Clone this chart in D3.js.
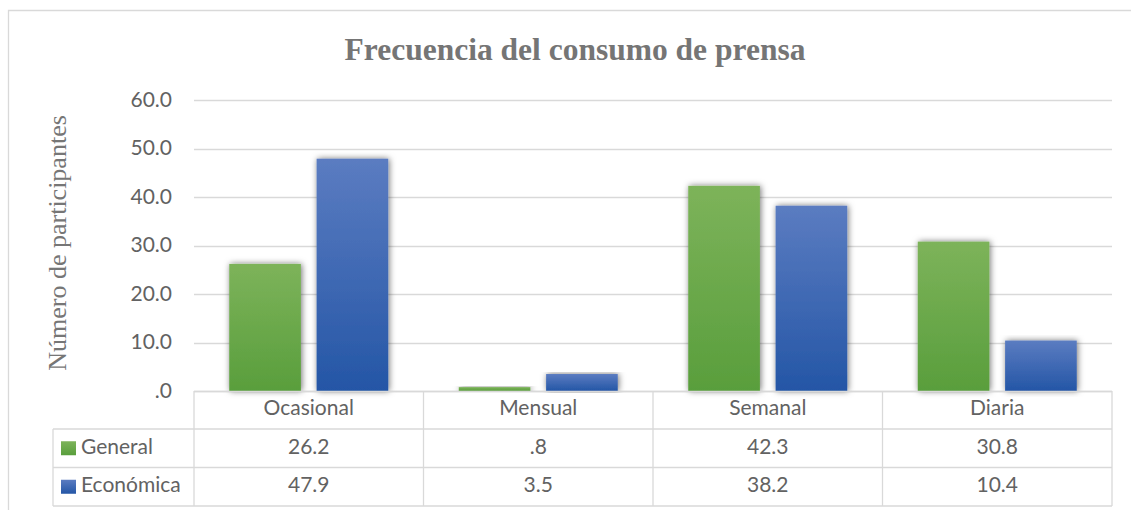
<!DOCTYPE html>
<html>
<head>
<meta charset="utf-8">
<script src="https://cdn.jsdelivr.net/npm/d3@7"></script>
<style>
  html, body { margin: 0; padding: 0; background: #fff; }
</style>
</head>
<body>
<div id="chart"></div>
<script>
// datos del grafico
const categorias = ["Ocasional", "Mensual", "Semanal", "Diaria"];
const series = ["General", "Económica"];
const general = [26.2, 0.8, 42.3, 30.8];
const economica = [47.9, 3.5, 38.2, 10.4];
const yTicks = [0, 10, 20, 30, 40, 50, 60];

const valores = [general, economica];

const width = 1131, height = 510;
const plotLeft = 194, plotRight = 1112, plotTop = 100, plotBottom = 391;
const rowH = 38;

const svg = d3.select("#chart").append("svg")
    .attr("width", width)
    .attr("height", height);

const defs = svg.append("defs");

// degradados de las barras
const grads = [["gGreen", "#7db35a", "#599e3c"], ["gBlue", "#5b7cc1", "#2456a6"]];
grads.forEach(([id, c1, c2]) => {
    const g = defs.append("linearGradient").attr("id", id)
        .attr("x1", 0).attr("y1", 0).attr("x2", 0).attr("y2", 1);
    g.append("stop").attr("offset", "0%").attr("stop-color", c1);
    g.append("stop").attr("offset", "100%").attr("stop-color", c2);
});

const f = defs.append("filter").attr("id", "sombra")
    .attr("x", "-20%").attr("y", "-10%").attr("width", "140%").attr("height", "120%");
f.append("feDropShadow").attr("dx", 1).attr("dy", 0)
    .attr("stdDeviation", 3).attr("flood-color", "#000").attr("flood-opacity", 0.55);

// borde del grafico
svg.append("path")
    .attr("d", `M8.5,${height} V10.5 H${width}`)
    .attr("fill", "none").attr("stroke", "#d9d9d9").attr("stroke-width", 1.3);

// titulo
svg.append("text")
    .attr("x", 575).attr("y", 60)
    .attr("text-anchor", "middle")
    .style("font-family", "'Liberation Serif', 'Times New Roman', serif")
    .style("font-weight", "bold")
    .style("font-size", "31.5px")
    .style("fill", "#757575")
    .text("Frecuencia del consumo de prensa");

// escalas
const y = d3.scaleLinear().domain([0, 60]).range([plotBottom, plotTop]);
const x0 = d3.scaleBand().domain(categorias).range([plotLeft, plotRight]);
const x1 = d3.scaleBand().domain(series)
    .range([35.25, x0.bandwidth() - 35.25])
    .paddingInner(0.18);

const fmt = v => d3.format(".1f")(v).replace(/^0\./, ".");

// lineas de la cuadricula
svg.append("g").selectAll("line")
    .data(yTicks)
    .join("line")
    .attr("x1", plotLeft).attr("x2", plotRight)
    .attr("y1", d => Math.round(y(d)) + 0.5).attr("y2", d => Math.round(y(d)) + 0.5)
    .attr("stroke", "#d9d9d9").attr("stroke-width", 1.3);

// eje y
const yAxis = svg.append("g")
    .attr("transform", `translate(${plotLeft - 22},0)`)
    .call(d3.axisLeft(y).tickValues(yTicks).tickFormat(fmt).tickSize(0).tickPadding(0));
yAxis.select(".domain").remove();
yAxis.selectAll("text")
    .attr("dy", "0.3em")
    .style("font-family", "Lato, 'Open Sans', sans-serif")
    .style("font-size", "21px")
    .style("fill", "#626262");

// titulo del eje y
svg.append("text")
    .attr("transform", `translate(66,243) rotate(-90)`)
    .attr("text-anchor", "middle")
    .style("font-family", "'Liberation Serif', 'Times New Roman', serif")
    .style("font-size", "26px")
    .style("fill", "#767676")
    .text("Número de participantes");

// barras
const grupos = svg.append("g").selectAll("g")
    .data(categorias)
    .join("g")
    .attr("transform", d => `translate(${x0(d)},0)`);

grupos.selectAll("rect")
    .data((c, i) => series.map((s, j) => ({ s, v: valores[j][i], j })))
    .join("rect")
    .attr("x", d => x1(d.s))
    .attr("width", x1.bandwidth())
    .attr("y", d => y(d.v))
    .attr("height", d => y(0) - y(d.v))
    .attr("fill", d => d.j === 0 ? "url(#gGreen)" : "url(#gBlue)")
    .attr("filter", "url(#sombra)");

// tabla de datos
const tabla = svg.append("g");
const lineColor = "#d9d9d9";
const legX = 53;
const filas = [plotBottom, plotBottom + rowH, plotBottom + 2 * rowH + 0.5, plotBottom + 3 * rowH + 1];

tabla.append("line").attr("x1", plotLeft).attr("x2", plotRight)
    .attr("y1", filas[0] + 0.5).attr("y2", filas[0] + 0.5);
filas.slice(1).forEach(yy => {
    tabla.append("line").attr("x1", legX).attr("x2", plotRight)
        .attr("y1", yy).attr("y2", yy);
});
x0.domain().map(c => x0(c)).concat([plotRight]).forEach(xx => {
    tabla.append("line").attr("x1", xx).attr("x2", xx)
        .attr("y1", filas[0]).attr("y2", filas[3]);
});
tabla.append("line").attr("x1", legX).attr("x2", legX)
    .attr("y1", filas[1]).attr("y2", filas[3]);
tabla.selectAll("line").attr("stroke", lineColor).attr("stroke-width", 1.3);

const txtStyle = sel => sel
    .style("font-family", "Lato, 'Open Sans', sans-serif")
    .style("font-size", "21px")
    .style("fill", "#626262")
    .attr("dy", "0.3em");

tabla.append("g").selectAll("text")
    .data(categorias)
    .join("text")
    .attr("x", d => x0(d) + x0.bandwidth() / 2)
    .attr("y", (filas[0] + filas[1]) / 2 - 1)
    .attr("text-anchor", "middle")
    .text(d => d)
    .call(txtStyle);

series.forEach((s, j) => {
    const cy = (filas[j + 1] + filas[j + 2]) / 2 - 1;
    tabla.append("rect")
        .attr("x", 61).attr("y", cy - 6)
        .attr("width", 15).attr("height", 14)
        .attr("fill", j === 0 ? "url(#gGreen)" : "url(#gBlue)");
    tabla.append("text")
        .attr("x", 81).attr("y", cy)
        .text(s)
        .call(txtStyle);
    tabla.append("g").selectAll("text")
        .data(valores[j])
        .join("text")
        .attr("x", (d, i) => x0(categorias[i]) + x0.bandwidth() / 2)
        .attr("y", cy)
        .attr("text-anchor", "middle")
        .text(d => fmt(d))
        .call(txtStyle);
});
</script>
</body>
</html>
